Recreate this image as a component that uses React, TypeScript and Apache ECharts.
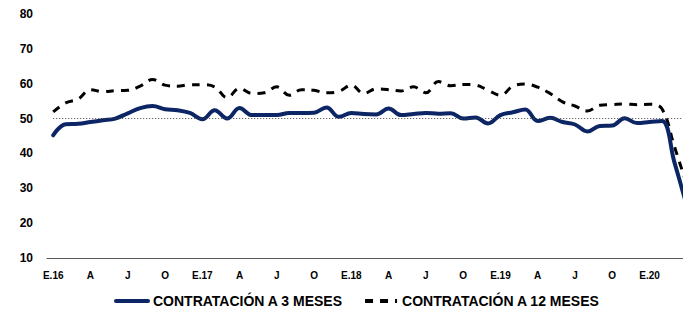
import React, { useEffect, useRef } from "react";
import * as echarts from "echarts";

const categories = [
  "E.16", "F", "M", "A", "M", "J", "J", "A", "S", "O", "N", "D",
  "E.17", "F", "M", "A", "M", "J", "J", "A", "S", "O", "N", "D",
  "E.18", "F", "M", "A", "M", "J", "J", "A", "S", "O", "N", "D",
  "E.19", "F", "M", "A", "M", "J", "J", "A", "S", "O", "N", "D",
  "E.20", "F", "M", "A",
];

const contratacion3 = [
  45.2, 48.4, 48.5, 49.0, 49.5, 50.0, 51.5, 53.0, 53.6, 52.7, 52.4, 51.6,
  49.8, 52.4, 50.0, 53.0, 51.0, 51.0, 51.0, 51.6, 51.6, 51.7, 53.2, 50.5,
  51.6, 51.3, 51.2, 52.9, 51.0, 51.3, 51.6, 51.4, 51.5, 50.0, 50.3, 48.6,
  51.0, 51.8, 52.6, 49.3, 50.2, 49.0, 48.3, 46.3, 47.9, 48.0, 50.1, 48.7,
  49.0, 49.3, 37.5, 25.0,
];

const contratacion12 = [
  51.9, 54.5, 55.6, 58.3, 57.7, 58.0, 58.1, 59.3, 61.2, 59.6, 59.3, 59.7,
  59.7, 59.1, 56.0, 58.7, 57.2, 57.4, 59.1, 56.7, 58.3, 58.1, 57.4, 57.8,
  59.6, 57.2, 58.5, 58.3, 57.9, 59.1, 57.4, 60.6, 59.4, 59.8, 59.6, 58.1,
  56.7, 59.3, 59.9, 59.0, 57.2, 54.8, 53.6, 52.2, 53.8, 54.0, 54.2, 54.0,
  54.1, 52.8, 42.0, 31.0,
];

const referenceLevel = 50;
const yTicks = { min: 10, max: 80, interval: 10 };

const FONT = "'Liberation Sans', Arial, sans-serif";

export default function App() {
  const ref = useRef<HTMLDivElement>(null);

  useEffect(() => {
    if (!ref.current) return;
    const chart = echarts.init(ref.current, undefined, { renderer: "svg" });
    chart.setOption({
      animation: false,
      backgroundColor: "#ffffff",
      grid: { left: 47, right: 27, top: 14, bottom: 55, containLabel: false },
      legend: {
        left: 114,
        top: 293,
        padding: 0,
        itemWidth: 32,
        itemHeight: 14,
        itemGap: 20,
        itemStyle: { opacity: 0 },
        lineStyle: { width: 4 },
        textStyle: {
          fontFamily: FONT,
          fontWeight: "bold",
          fontSize: 14,
          lineHeight: 16,
          color: "#000",
        },
        data: ["CONTRATACIÓN A 3 MESES", "CONTRATACIÓN A 12 MESES"],
      },
      xAxis: {
        type: "category",
        data: categories,
        boundaryGap: true,
        axisLine: { show: true, lineStyle: { color: "#595959", width: 1 } },
        axisTick: { show: false },
        axisLabel: {
          interval: 2,
          fontFamily: FONT,
          fontWeight: "bold",
          fontSize: 10,
          color: "#000",
          margin: 12,
        },
        splitLine: { show: false },
      },
      yAxis: {
        type: "value",
        min: yTicks.min,
        max: yTicks.max,
        interval: yTicks.interval,
        axisLine: { show: false },
        axisTick: { show: false },
        splitLine: { show: false },
        axisLabel: {
          fontFamily: FONT,
          fontWeight: "bold",
          fontSize: 12,
          color: "#000",
          margin: 14,
        },
      },
      series: [
        {
          name: "CONTRATACIÓN A 3 MESES",
          type: "line",
          data: contratacion3,
          smooth: 0.4,
          symbol: "none",
          z: 3,
          lineStyle: { color: "#0b2565", width: 4, cap: "round" },
          itemStyle: { color: "#0b2565" },
          markLine: {
            silent: true,
            symbol: "none",
            label: { show: false },
            lineStyle: { color: "#404040", width: 1, type: [1, 2] },
            data: [
              [
                { coord: [categories[0], referenceLevel] },
                { coord: [categories[categories.length - 1], referenceLevel] },
              ],
            ],
          },
        },
        {
          name: "CONTRATACIÓN A 12 MESES",
          type: "line",
          data: contratacion12,
          smooth: 0.4,
          symbol: "none",
          z: 2,
          lineStyle: { color: "#000000", width: 3, type: [8, 7], cap: "butt" },
          itemStyle: { color: "#000000" },
        },
      ],
    });
    return () => chart.dispose();
  }, []);

  return (
    <div
      style={{
        position: "fixed",
        left: 0,
        top: 0,
        width: 683,
        height: 313,
        overflow: "hidden",
        background: "#fff",
      }}
    >
      <div ref={ref} style={{ width: 720, height: 313 }} />
    </div>
  );
}
